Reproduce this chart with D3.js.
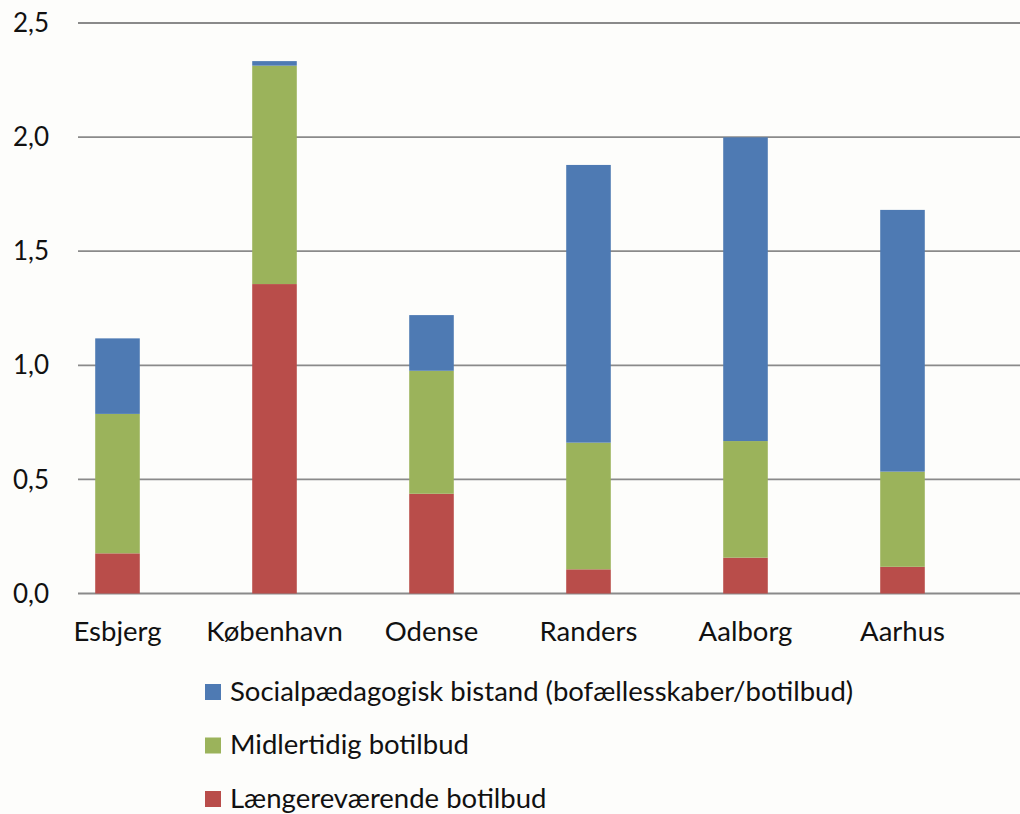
<!DOCTYPE html>
<html>
<head>
<meta charset="utf-8">
<script src="https://cdn.jsdelivr.net/npm/d3@7"></script>
<style>
  html, body { margin: 0; padding: 0; background: #fdfdfb; }
  svg { display: block; }
  text { font-family: Lato, "Open Sans", sans-serif; fill: #111; }
</style>
</head>
<body>
<svg id="chart" width="1020" height="814"></svg>
<script>
const categories = ["Esbjerg", "København", "Odense", "Randers", "Aalborg", "Aarhus"];
const seriesNames = [
  "Længereværende botilbud",
  "Midlertidig botilbud",
  "Socialpædagogisk bistand (bofællesskaber/botilbud)"
];
const laengerevaerende = [0.176, 1.356, 0.437, 0.106, 0.157, 0.117];
const midlertidig      = [0.611, 0.957, 0.539, 0.555, 0.511, 0.417];
const socialpaed       = [0.331, 0.020, 0.244, 1.217, 1.331, 1.147];
const yTicks = [0, 0.5, 1.0, 1.5, 2.0, 2.5];
const colors = ["#b94d4a", "#9bb35b", "#4e7ab3"];

const svg = d3.select("#chart");
const W = 1020;

const x = d3.scaleBand().domain(categories).range([39, 981])
  .paddingInner(0.716).paddingOuter(0.358);
const y = d3.scaleLinear().domain([0, 2.5]).range([593.5, 23]);

// gridlines
const gridX0 = 78, gridX1 = W;
svg.append("g").selectAll("line").data(yTicks).join("line")
  .attr("x1", gridX0).attr("x2", gridX1)
  .attr("y1", d => y(d)).attr("y2", d => y(d))
  .attr("stroke", "#8a8a8a").attr("stroke-width", 1.8);

// y-axis labels
const fmt = d => d3.format(".1f")(d).replace(".", ",");
svg.append("g").selectAll("text").data(yTicks).join("text")
  .attr("x", 49).attr("y", d => y(d)).attr("dy", "0.35em")
  .attr("text-anchor", "end").attr("font-size", 26)
  .text(fmt);

// stacked data
const rows = categories.map((c, i) => ({
  cat: c, s0: laengerevaerende[i], s1: midlertidig[i], s2: socialpaed[i]
}));
const stack = d3.stack().keys(["s0", "s1", "s2"]);
const layers = stack(rows);

svg.append("g").selectAll("g").data(layers).join("g")
  .attr("fill", (d, i) => colors[i])
  .selectAll("rect").data(d => d).join("rect")
  .attr("x", d => x(d.data.cat))
  .attr("width", x.bandwidth())
  .attr("y", d => y(d[1]))
  .attr("height", d => y(d[0]) - y(d[1]));

// x-axis category labels
svg.append("g").selectAll("text").data(categories).join("text")
  .attr("x", d => x(d) + x.bandwidth() / 2)
  .attr("y", 641)
  .attr("text-anchor", "middle").attr("font-size", 27.5)
  .text(d => d);

// legend (reverse order: blue on top)
const legendOrder = [2, 1, 0];
const lg = svg.append("g");
legendOrder.forEach((si, k) => {
  const top = 684 + k * 53.5;
  lg.append("rect").attr("x", 205).attr("y", top)
    .attr("width", 16).attr("height", 16).attr("fill", colors[si]);
  lg.append("text").attr("x", 230).attr("y", top + 16.5)
    .attr("font-size", 27.5).text(seriesNames[si]);
});
</script>
</body>
</html>
